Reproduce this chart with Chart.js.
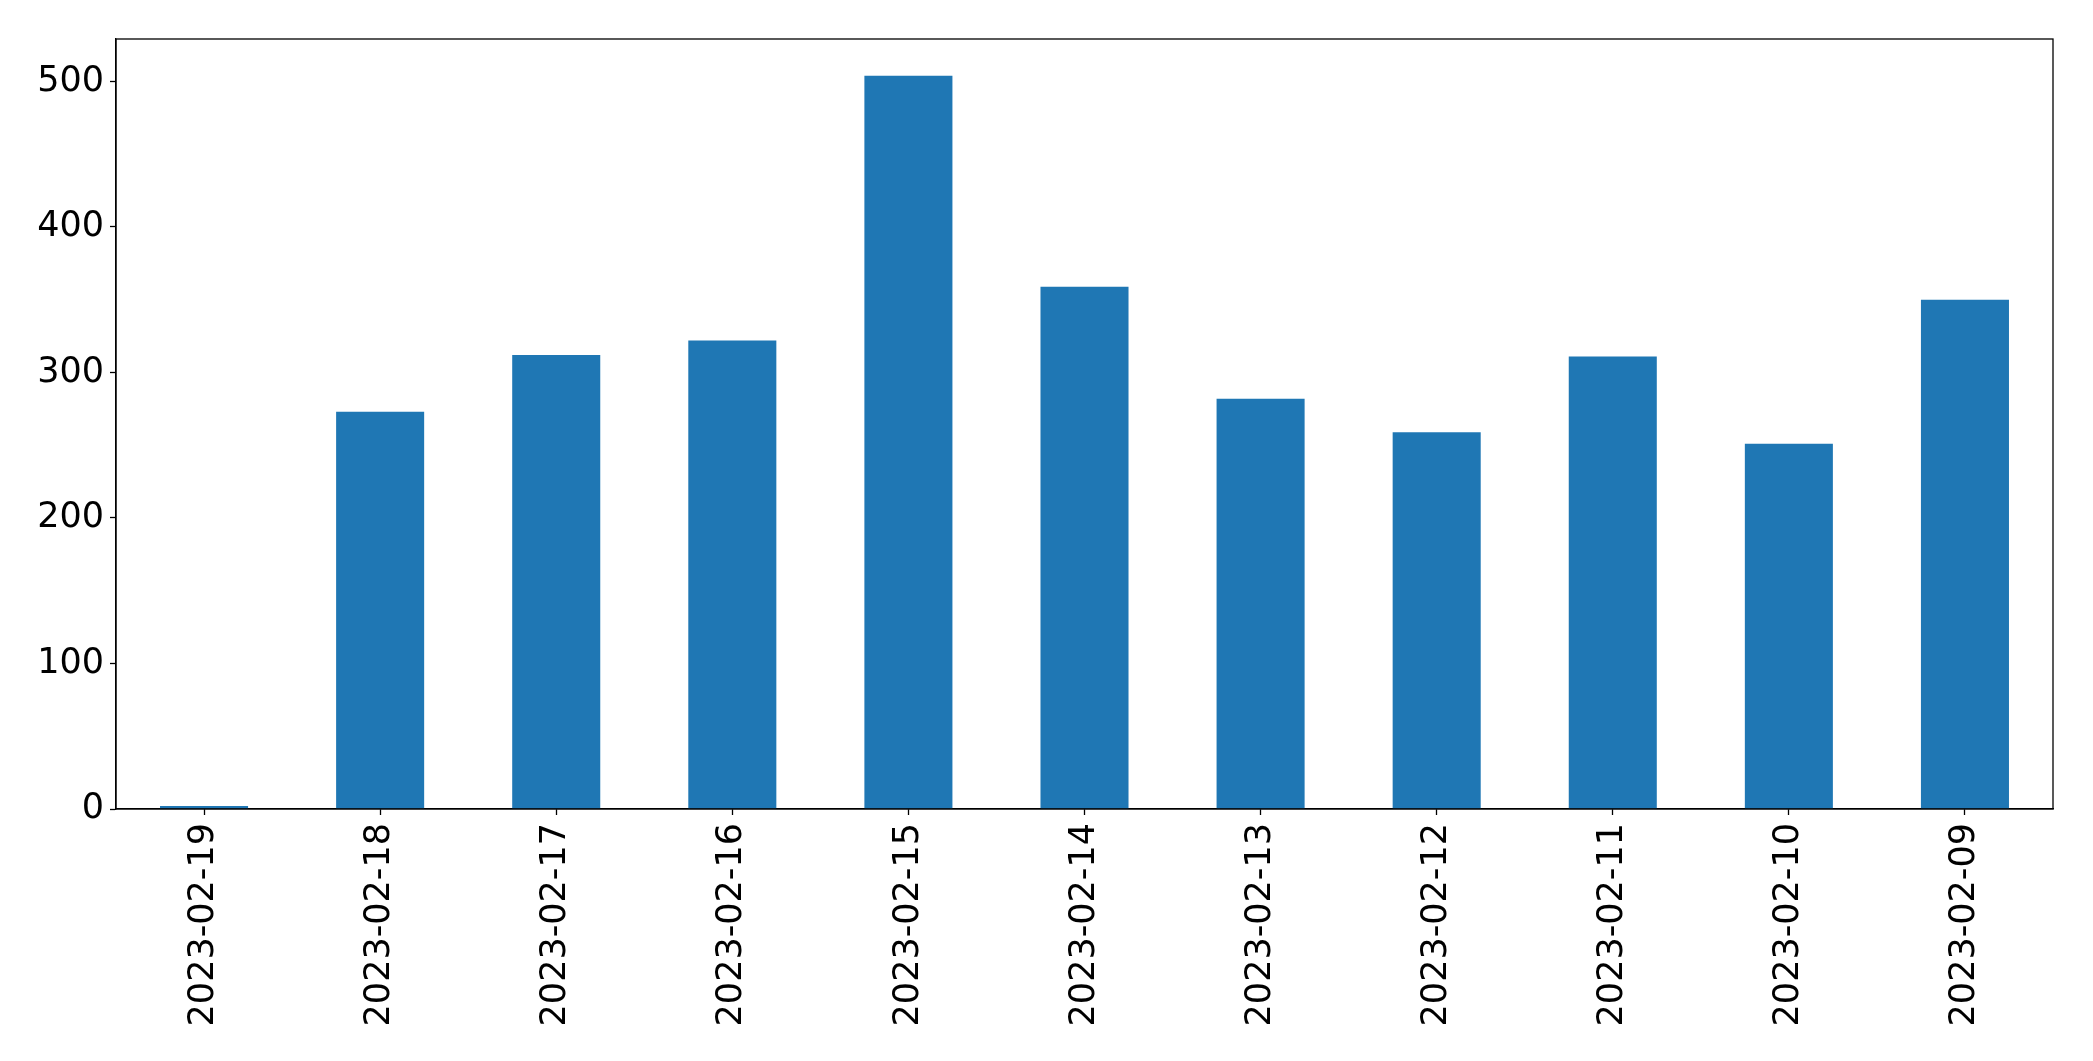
<!DOCTYPE html>
<html>
<head>
<meta charset="utf-8">
<script src="https://cdn.jsdelivr.net/npm/chart.js@4"></script>
<style>
  body { margin: 0; background: #fff; }
</style>
</head>
<body>
<canvas id="chart" width="2093" height="1061"></canvas>
<script>
const dates = ["2023-02-19", "2023-02-18", "2023-02-17", "2023-02-16", "2023-02-15", "2023-02-14",
  "2023-02-13", "2023-02-12", "2023-02-11", "2023-02-10", "2023-02-09"];
const counts = [2, 273, 312, 322, 504, 359, 282, 259, 311, 251, 350];
const yTicks = [0, 100, 200, 300, 400, 500];

const ctx = document.getElementById("chart").getContext("2d");

// black box round the plot area, like matplotlib's spines
const frame = {
  id: "frame",
  afterDraw(chart) {
    const a = chart.chartArea;
    const c = chart.ctx;
    c.save();
    c.strokeStyle = "#000";
    c.lineWidth = 1.3;
    c.strokeRect(a.left, a.top, a.right - a.left, a.bottom - a.top);
    c.restore();
  }
};

new Chart(ctx, {
  type: "bar",
  data: {
    labels: dates,
    datasets: [{
      data: counts,
      backgroundColor: "#1f77b4",
      barPercentage: 0.5,
      categoryPercentage: 1.0
    }]
  },
  options: {
    responsive: false,
    animation: false,
    layout: { padding: { top: 39, right: 40, left: 0, bottom: 0 } },
    plugins: { legend: { display: false }, tooltip: { enabled: false } },
    scales: {
      x: {
        offset: true,
        grid: { display: true, offset: false, drawOnChartArea: false, tickLength: 6, color: "#000", tickWidth: 1.3 },
        border: { color: "#000", width: 1.3 },
        ticks: {
          color: "#000",
          font: { family: "DejaVu Sans", size: 35 },
          minRotation: 90,
          maxRotation: 90,
          padding: 8
        },
        afterFit(scale) { scale.height = 252; }
      },
      y: {
        min: 0,
        max: 529.2,
        grid: { display: true, drawOnChartArea: false, tickLength: 6, color: "#000", tickWidth: 1.3 },
        border: { color: "#000", width: 1.3 },
        ticks: {
          color: "#000",
          font: { family: "DejaVu Sans", size: 35 },
          padding: 6
        },
        afterBuildTicks(scale) {
          scale.ticks = yTicks.map(v => ({ value: v }));
        },
        afterFit(scale) { scale.width = 116; }
      }
    }
  },
  plugins: [frame]
});
</script>
</body>
</html>
